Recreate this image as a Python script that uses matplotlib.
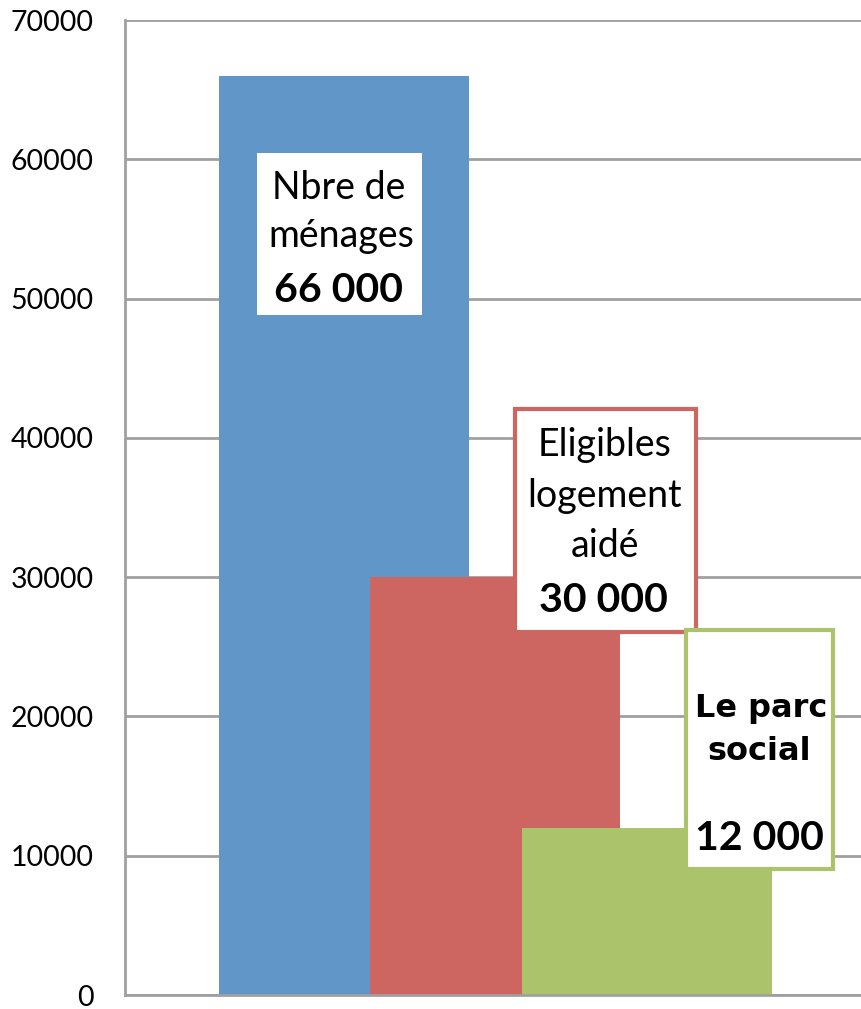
import matplotlib
matplotlib.use("Agg")
import matplotlib.pyplot as plt
from matplotlib.patches import Rectangle

# Data
categories = ["Nbre de ménages", "Eligibles logement aidé", "Le parc social"]
values = [66000, 30000, 12000]
colors = ["#6196C9", "#CD6560", "#ABC46C"]
yticks = [0, 10000, 20000, 30000, 40000, 50000, 60000, 70000]

W, H = 862, 1009
fig = plt.figure(figsize=(W / 100, H / 100), dpi=100)
ax_left, ax_right, ax_top, ax_bottom = 125, 862, 20, 995
ax = fig.add_axes([ax_left / W, (H - ax_bottom) / H, (ax_right - ax_left) / W, (ax_bottom - ax_top) / H])

spacing = 151.5
xc0 = 344
bar_w = 250 / spacing
positions = [0, 1, 2]
for p, v, c in zip(positions, values, colors):
    ax.bar(p, v, width=bar_w, color=c, zorder=2)

ax.set_xlim((ax_left - xc0) / spacing, (ax_right - xc0) / spacing)
ax.set_ylim(0, 70000)
ax.set_yticks(yticks)
ax.set_yticklabels([str(t) for t in yticks], fontsize=20.5, family="Lato")
ax.set_xticks([])
ax.tick_params(axis="y", length=0, pad=22.5)
ax.grid(axis="y", color="#A0A0A0", linewidth=2, zorder=0)
ax.set_axisbelow(True)
for s in ["top", "right"]:
    ax.spines[s].set_visible(False)
for s in ["left", "bottom"]:
    ax.spines[s].set_color("#A0A0A0")
    ax.spines[s].set_linewidth(2)


def px(x, y):
    return (x - xc0) / spacing, (ax_bottom - y) / (ax_bottom - ax_top) * 70000


def box(x0, y0, x1, y1, edge, lw):
    (a, b), (c, d) = px(x0, y1), px(x1, y0)
    ax.add_patch(Rectangle((a, b), c - a, d - b, facecolor="white",
                           edgecolor=edge, linewidth=lw, zorder=5, clip_on=False))


def txt(x, y, s, size, bold=False, family="Lato"):
    a, b = px(x, y)
    ax.text(a, b, s, ha="center", va="center", fontsize=size,
            fontweight="bold" if bold else "normal", family=family, zorder=6)


# Blue label
box(257, 153, 422, 315, "none", 0)
txt(339, 188, "Nbre de", 27)
txt(341, 236, "ménages", 27)
txt(339, 290, "66 000", 29.5, bold=True)

# Red label
box(515, 409, 696, 632, colors[1], 3)
txt(605, 445, "Eligibles", 27)
txt(605, 496, "logement", 27)
txt(605, 546, "aidé", 27)
txt(603, 601, "30 000", 29.5, bold=True)

# Green label
box(686, 630, 833, 869, colors[2], 3)
txt(761, 708, "Le parc", 23, bold=True, family="DejaVu Sans")
txt(759, 751, "social", 23, bold=True, family="DejaVu Sans")
txt(759, 838, "12 000", 29.5, bold=True)

fig.savefig("out.png", dpi=100)
